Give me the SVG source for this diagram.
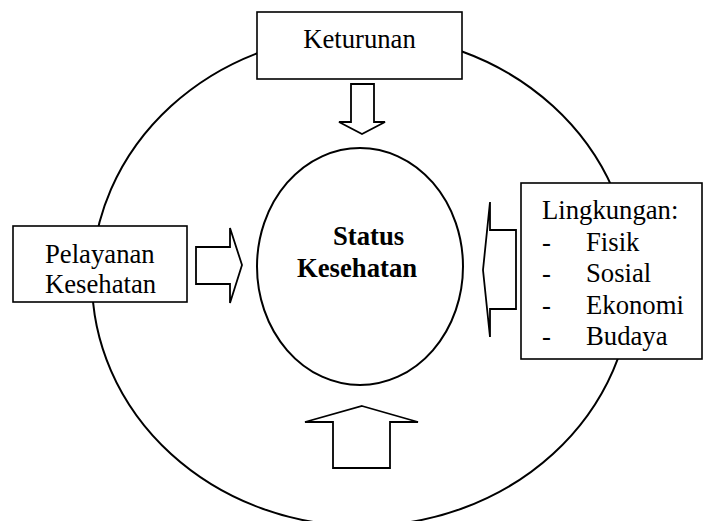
<svg xmlns="http://www.w3.org/2000/svg" width="704" height="521" viewBox="0 0 704 521">
<style>
.ln{fill:none;stroke:#000;stroke-width:2}
.bx{fill:#fff;stroke:#000;stroke-width:1.6}
.ar{fill:#fff;stroke:#000;stroke-width:1.8;stroke-linejoin:miter}
.t{font-size:26.7px;fill:#000}
.b{font-weight:bold}
</style>
<rect width="704" height="521" fill="#fff"/>
<g id="outer">
<ellipse class="ln" cx="362" cy="280" rx="270" ry="246"/>
</g>
<g id="connectors">
<polygon class="ar" points="351,84 374,84 374,122 385,122 362,134 339,122 351,122"/>
<polygon class="ar" points="196,247 230,247 230,228 242,265 230,303 230,284 196,284"/>
<polygon class="ar" points="516,230 490,230 490,202 483,270 490,337 490,309 516,309"/>
<polygon class="ar" points="362,406 418,422 390,422 390,468 333,468 333,422 305,422"/>
</g>
<g font-family="Liberation Serif, Times New Roman, serif">
<g id="keturunan">
<rect class="bx" x="257" y="12" width="205" height="67"/>
<text class="t" x="359.5" y="48" text-anchor="middle">Keturunan</text>
</g>
<g id="pelayanan">
<rect class="bx" x="13" y="226" width="174" height="76"/>
<text class="t" x="45" y="263">Pelayanan</text>
<text class="t" x="45" y="293">Kesehatan</text>
</g>
<g id="lingkungan">
<rect class="bx" x="521" y="183" width="181" height="176"/>
<text class="t" x="542" y="219">Lingkungan:</text>
<text class="t" x="542" y="250.5">-</text><text class="t" x="586" y="250.5">Fisik</text>
<text class="t" x="542" y="282">-</text><text class="t" x="586" y="282">Sosial</text>
<text class="t" x="542" y="313.5">-</text><text class="t" x="586" y="313.5">Ekonomi</text>
<text class="t" x="542" y="345">-</text><text class="t" x="586" y="345">Budaya</text>
</g>
<g id="status">
<ellipse class="ln" cx="360" cy="266.5" rx="103" ry="118.5"/>
<text class="t b" x="333" y="245">Status</text>
<text class="t b" x="297" y="277">Kesehatan</text>
</g>
</g>
</svg>
